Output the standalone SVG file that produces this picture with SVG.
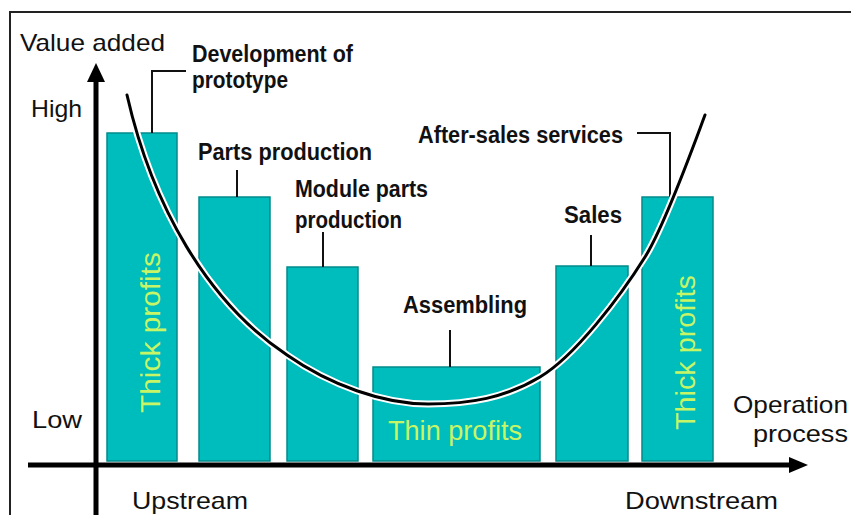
<svg xmlns="http://www.w3.org/2000/svg" width="851" height="515" viewBox="0 0 851 515">
<style>
.bar{fill:#00bdbd;stroke:#008a8a;stroke-width:1.5}
.lbl{font-family:"Liberation Sans",Arial,sans-serif;font-weight:bold;font-size:23px;fill:#111}
.ax{font-family:"Liberation Sans",Arial,sans-serif;font-size:24px;fill:#111}
.pf{font-family:"Liberation Sans",Arial,sans-serif;font-size:28px;fill:#c8f566}
.lead{fill:none;stroke:#111;stroke-width:2}
.axis{stroke:#000;stroke-width:5;fill:none}
</style>
<rect x="0" y="0" width="851" height="515" fill="#fff"/>
<path d="M10,515 V12 H851" fill="none" stroke="#222" stroke-width="2"/>

<g id="axes">
<line class="axis" x1="96" y1="515" x2="96" y2="78"/>
<polygon points="96,63 87,82 105,82" fill="#000"/>
<line class="axis" x1="28" y1="465" x2="792" y2="465"/>
<polygon points="808,465 789,457 789,473" fill="#000"/>
<text class="ax" x="20" y="51" textLength="145" lengthAdjust="spacingAndGlyphs">Value added</text>
<text class="ax" x="31" y="117" font-size="26" textLength="51" lengthAdjust="spacingAndGlyphs">High</text>
<text class="ax" x="32" y="428" textLength="50" lengthAdjust="spacingAndGlyphs">Low</text>
<text class="ax" x="132" y="509" font-size="23" textLength="116" lengthAdjust="spacingAndGlyphs">Upstream</text>
<text class="ax" x="625" y="509" font-size="23" textLength="153" lengthAdjust="spacingAndGlyphs">Downstream</text>
<text class="ax" x="733" y="413" font-size="25" textLength="115" lengthAdjust="spacingAndGlyphs">Operation</text>
<text class="ax" x="753" y="442" font-size="25" textLength="95" lengthAdjust="spacingAndGlyphs">process</text>
</g>

<g id="bar-prototype">
<rect class="bar" x="107" y="133" width="70" height="328"/>
<text class="pf" transform="translate(160,413) rotate(-90)" textLength="161" lengthAdjust="spacingAndGlyphs">Thick profits</text>
<text class="lbl" x="192" y="62" textLength="161" lengthAdjust="spacingAndGlyphs">Development of</text>
<text class="lbl" x="192" y="88" textLength="96" lengthAdjust="spacingAndGlyphs">prototype</text>
</g>

<g id="bar-parts">
<rect class="bar" x="199" y="197" width="71" height="264"/>
<text class="lbl" x="198" y="160" textLength="174" lengthAdjust="spacingAndGlyphs">Parts production</text>
</g>

<g id="bar-module">
<rect class="bar" x="287" y="267" width="71" height="194"/>
<text class="lbl" x="295" y="197" textLength="133" lengthAdjust="spacingAndGlyphs">Module parts</text>
<text class="lbl" x="295" y="228" textLength="107" lengthAdjust="spacingAndGlyphs">production</text>
</g>

<g id="bar-assembling">
<rect class="bar" x="373" y="367" width="167" height="94"/>
<text class="pf" x="388" y="440" font-size="27" textLength="134" lengthAdjust="spacingAndGlyphs">Thin profits</text>
<text class="lbl" x="403" y="313" font-size="22" textLength="124" lengthAdjust="spacingAndGlyphs">Assembling</text>
</g>

<g id="bar-sales">
<rect class="bar" x="556" y="266" width="72" height="195"/>
<text class="lbl" x="564" y="223" font-size="22" textLength="58" lengthAdjust="spacingAndGlyphs">Sales</text>
</g>

<g id="bar-aftersales">
<rect class="bar" x="642" y="197" width="71" height="264"/>
<text class="pf" transform="translate(695,430) rotate(-90)" textLength="155" lengthAdjust="spacingAndGlyphs">Thick profits</text>
<text class="lbl" x="418" y="143" font-size="22" textLength="205" lengthAdjust="spacingAndGlyphs">After-sales services</text>
</g>

<g id="connectors">
<path class="lead" d="M152,133 V71 H186"/>
<path class="lead" d="M237,170 V197"/>
<path class="lead" d="M323,232 V267"/>
<path class="lead" d="M450,330 V367"/>
<path class="lead" d="M591,235 V266"/>
<path class="lead" d="M637,133 H670 V197"/>
<g id="smile-curve">
<path d="M127,95 C152,205 207,302 287,355 C330,385 383,404 428,404 C470,404 505,398 540,377 C575,356 620,297 645,257 C665,225 693,147 705,115" fill="none" stroke="#fff" stroke-width="7" stroke-linecap="round"/>
<path d="M127,95 C152,205 207,302 287,355 C330,385 383,404 428,404 C470,404 505,398 540,377 C575,356 620,297 645,257 C665,225 693,147 705,115" fill="none" stroke="#000" stroke-width="3" stroke-linecap="round"/>
</g>
</g>
</svg>
